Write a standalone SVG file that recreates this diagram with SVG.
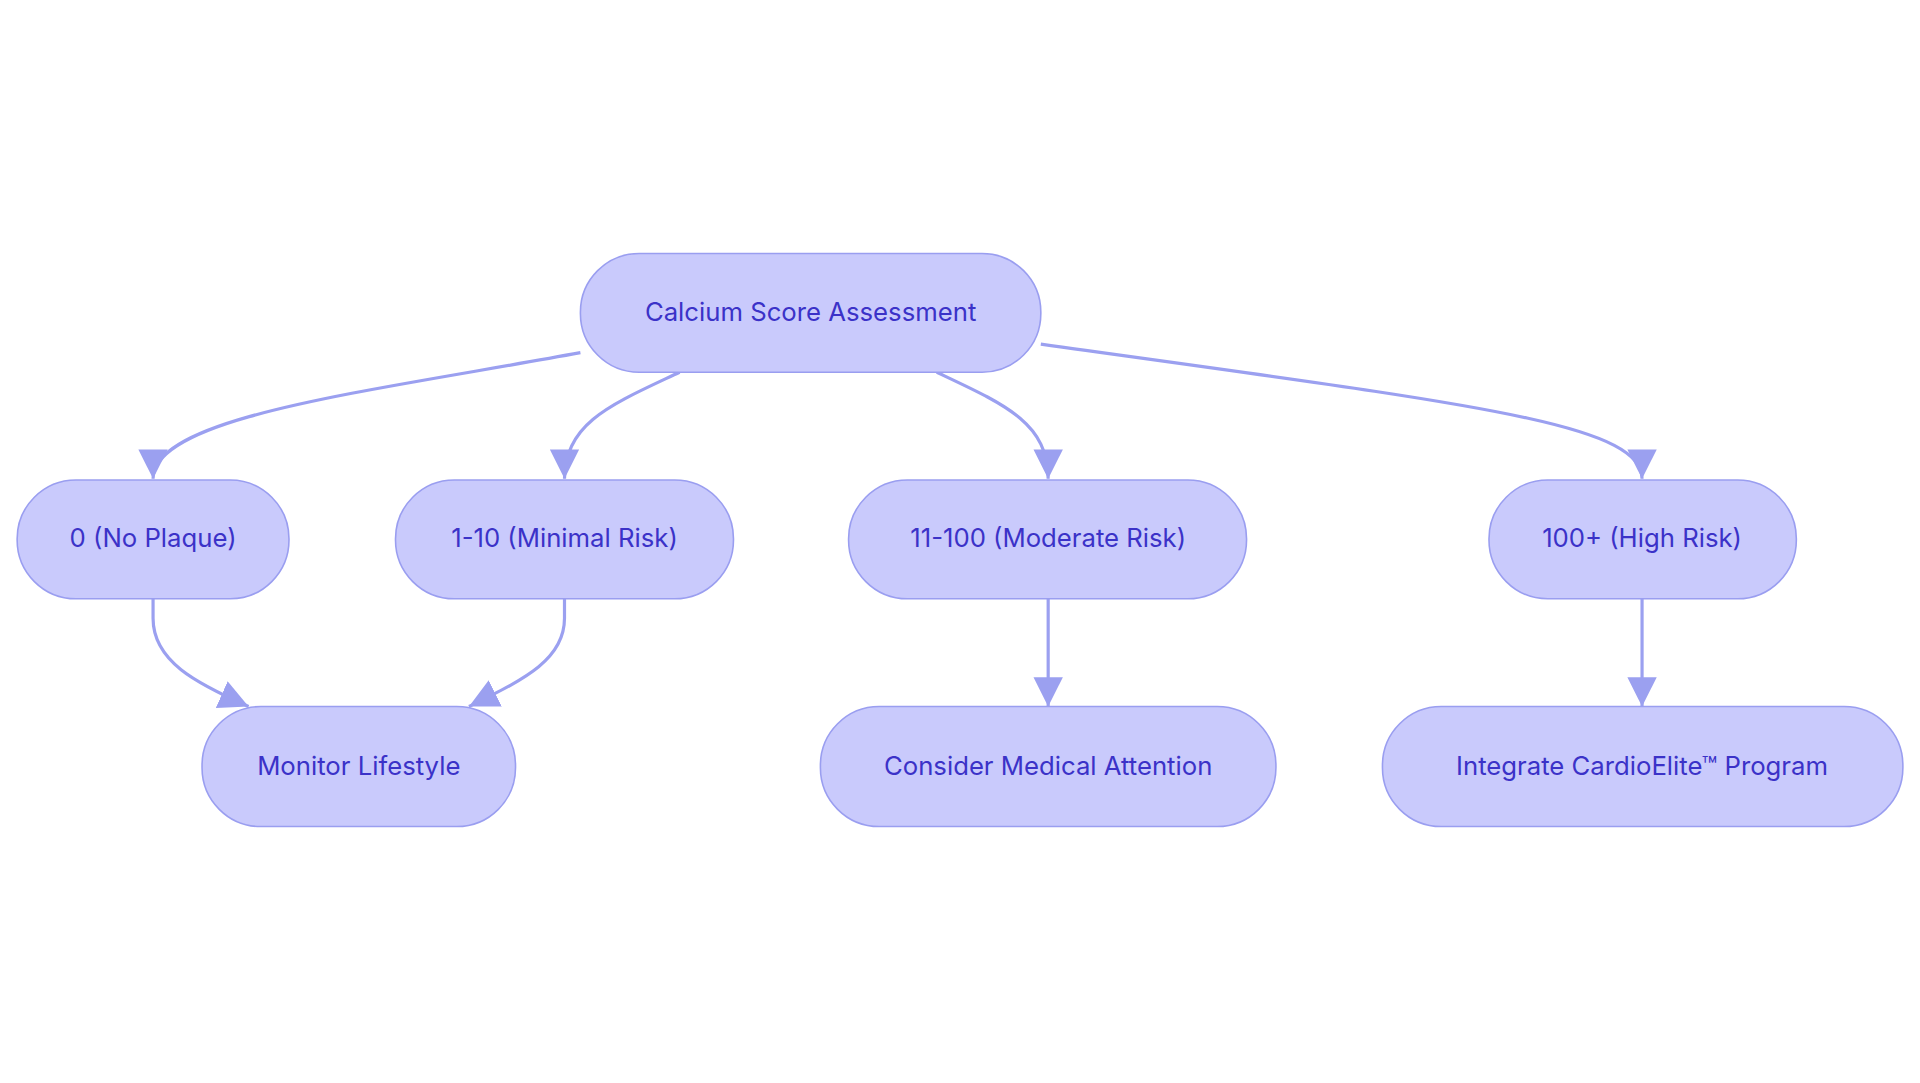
<svg xmlns="http://www.w3.org/2000/svg" width="1920" height="1083" viewBox="0 0 1920 1083">
<style>
.n rect{fill:#c9cafc;stroke:#9a9ef0;stroke-width:1.3}
.n text{font-family:Inter,"Noto Sans",sans-serif;font-size:21px;fill:#3b32c8;text-anchor:middle;dominant-baseline:central}
.e path{fill:none;stroke:#9ba0f0;stroke-width:2.6;marker-end:url(#a)}
</style>
<defs><marker id="a" markerUnits="userSpaceOnUse" viewBox="0 0 20 20" refX="20" refY="10" markerWidth="24" markerHeight="24" orient="auto"><path d="M0,0L20,10L0,20z" fill="#9ba0f0"/></marker></defs>
<rect width="1920" height="1083" fill="#fff"/>
<g transform="scale(1.2245)">
<g class="e">
<path d="M474,288 C300,320 125,340 125,391"/>
<path d="M555,304 C500,330 461,345 461,391"/>
<path d="M765,304 C820,330 856,345 856,391"/>
<path d="M850,281 C1200,330 1341,345 1341,391"/>
<path d="M125,489 L125,505 C125,540 160,558 203,577"/>
<path d="M461,489 L461,505 C461,540 425,556 383,577"/>
<path d="M856,489 L856,577"/>
<path d="M1341,489 L1341,577"/>
</g>
<g id="calcium" class="n"><rect x="474" y="207" width="376" height="97" rx="48"/><text x="662" y="254">Calcium Score Assessment</text></g>
<g id="zero" class="n"><rect x="14" y="392" width="222" height="97" rx="48"/><text x="125" y="439">0 (No Plaque)</text></g>
<g id="minimal" class="n"><rect x="323" y="392" width="276" height="97" rx="48"/><text x="461" y="439">1-10 (Minimal Risk)</text></g>
<g id="moderate" class="n"><rect x="693" y="392" width="325" height="97" rx="48"/><text x="856" y="439">11-100 (Moderate Risk)</text></g>
<g id="high" class="n"><rect x="1216" y="392" width="251" height="97" rx="48"/><text x="1341" y="439">100+ (High Risk)</text></g>
<g id="monitor" class="n"><rect x="165" y="577" width="256" height="98" rx="48"/><text x="293" y="625">Monitor Lifestyle</text></g>
<g id="consider" class="n"><rect x="670" y="577" width="372" height="98" rx="48"/><text x="856" y="625">Consider Medical Attention</text></g>
<g id="integrate" class="n"><rect x="1129" y="577" width="425" height="98" rx="48"/><text x="1341" y="625">Integrate CardioElite™ Program</text></g>
</g>
</svg>
